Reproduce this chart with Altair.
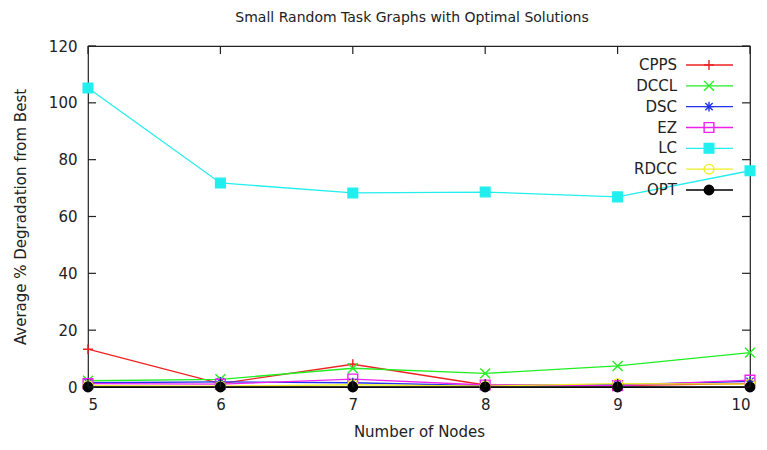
import altair as alt
import pandas as pd

nodes = [5, 6, 7, 8, 9, 10]
names = ["CPPS", "DCCL", "DSC", "EZ", "LC", "RDCC", "OPT"]
cpps = [13.3, 1.2, 8.0, 0.7, 0.5, 1.2]
dccl = [2.2, 2.7, 6.6, 4.8, 7.4, 12.1]
dsc = [1.5, 1.8, 1.5, 0.5, 0.8, 2.0]
ez = [1.2, 1.0, 2.8, 0.7, 0.5, 2.4]
lc = [105.2, 71.8, 68.3, 68.6, 66.9, 76.1]
rdcc = [0.5, 0.3, 0.8, 0.3, 1.2, 1.0]
opt = [0.0, 0.0, 0.0, 0.0, 0.0, 0.0]
series = [cpps, dccl, dsc, ez, lc, rdcc, opt]

y_ticks = [0, 20, 40, 60, 80, 100, 120]
x_ticks = nodes

colors = ["#ee2222", "#22ee22", "#2233ee", "#ee22ee", "#22eeee", "#eeee22", "#000000"]
shapes = [
    "M-1,0L1,0M0,-1L0,1",
    "M-1,-1L1,1M-1,1L1,-1",
    "M-1,0L1,0M0,-1L0,1M-0.75,-0.75L0.75,0.75M-0.75,0.75L0.75,-0.75",
    "square",
    "square",
    "circle",
    "circle",
]
fills = ["transparent", "transparent", "transparent", "transparent", "#22eeee", "transparent", "#000000"]
sizes = [100, 90, 90, 60, 80, 60, 60]

rows = []
for n, vals in zip(names, series):
    for x, v in zip(nodes, vals):
        rows.append({"name": n, "nodes": x, "value": v})
df = pd.DataFrame(rows)
leg_df = pd.DataFrame({"name": names})
yt_df = pd.DataFrame({"v": y_ticks})
xt_df = pd.DataFrame({"v": x_ticks})

W, H = 662, 341
FONT = "DejaVu Sans"
TXT = "#222222"

xscale = alt.Scale(domain=[5, 10], nice=False, zero=False)
yscale = alt.Scale(domain=[0, 120], nice=False)
cscale = alt.Scale(domain=names, range=colors)
sscale = alt.Scale(domain=names, range=shapes)
fscale = alt.Scale(domain=names, range=fills)
zscale = alt.Scale(domain=names, range=sizes)

xaxis = alt.Axis(values=x_ticks, format="d", ticks=False, domain=False, grid=False, labelPadding=10,
                 labelFontSize=15, titleFontSize=15, titleFontWeight="normal",
                 title="Number of Nodes", titlePadding=12, labelColor=TXT, titleColor=TXT)
yaxis = alt.Axis(values=y_ticks, format="d", ticks=False, domain=False, grid=False, labelPadding=11,
                 labelFontSize=15, titleFontSize=15, titleFontWeight="normal",
                 title="Average % Degradation from Best", titlePadding=20,
                 labelColor=TXT, titleColor=TXT)

base = alt.Chart(df)
lines = base.mark_line(strokeWidth=1.3).encode(
    x=alt.X("nodes:Q", scale=xscale, axis=xaxis),
    y=alt.Y("value:Q", scale=yscale, axis=yaxis),
    color=alt.Color("name:N", scale=cscale, legend=None),
    order=alt.Order("nodes:Q"),
)
points = base.mark_point(strokeWidth=1.4, opacity=1, filled=False).encode(
    x=alt.X("nodes:Q", scale=xscale),
    y=alt.Y("value:Q", scale=yscale),
    color=alt.Color("name:N", scale=cscale, legend=None),
    shape=alt.Shape("name:N", scale=sscale, legend=None),
    fill=alt.Fill("name:N", scale=fscale, legend=None),
    size=alt.Size("name:N", scale=zscale, legend=None),
)

tick_style = dict(color="#222222", strokeWidth=1.2)
ytl = alt.Chart(yt_df).mark_rule(**tick_style).encode(
    y=alt.Y("v:Q", scale=yscale), x=alt.value(0), x2=alt.value(8))
ytr = alt.Chart(yt_df).mark_rule(**tick_style).encode(
    y=alt.Y("v:Q", scale=yscale), x=alt.value(W - 8), x2=alt.value(W))
xtb = alt.Chart(xt_df).mark_rule(**tick_style).encode(
    x=alt.X("v:Q", scale=xscale), y=alt.value(H - 8), y2=alt.value(H))
xtt = alt.Chart(xt_df).mark_rule(**tick_style).encode(
    x=alt.X("v:Q", scale=xscale), y=alt.value(0), y2=alt.value(8))

main = alt.layer(lines, points, ytl, ytr, xtb, xtt)

lscale = alt.Scale(type="point", domain=names, range=[19, 144], padding=0)
lbase = alt.Chart(leg_df)
leg_text = lbase.mark_text(align="right", baseline="middle", fontSize=15, font=FONT, color=TXT).encode(
    y=alt.Y("name:N", scale=lscale, axis=None), x=alt.value(589), text="name:N")
leg_rule = lbase.mark_rule(strokeWidth=1.3).encode(
    y=alt.Y("name:N", scale=lscale, axis=None), x=alt.value(598), x2=alt.value(645),
    color=alt.Color("name:N", scale=cscale, legend=None))
leg_pt = lbase.mark_point(strokeWidth=1.4, opacity=1, filled=False).encode(
    y=alt.Y("name:N", scale=lscale, axis=None), x=alt.value(621),
    color=alt.Color("name:N", scale=cscale, legend=None),
    shape=alt.Shape("name:N", scale=sscale, legend=None),
    fill=alt.Fill("name:N", scale=fscale, legend=None),
    size=alt.Size("name:N", scale=zscale, legend=None),
)
legend = alt.layer(leg_text, leg_rule, leg_pt)

chart = alt.layer(main, legend).resolve_scale(y="independent").properties(
    width=W, height=H,
    title=alt.Title("Small Random Task Graphs with Optimal Solutions", fontSize=14,
                    fontWeight="normal", font=FONT, color=TXT, offset=14, dx=-7),
    autosize=alt.AutoSizeParams(type="none"),
    padding={"left": 80, "top": 38, "right": 9, "bottom": 54},
).configure(font=FONT).configure_view(stroke="#222222", strokeWidth=1.2).configure_axis(
    labelFont=FONT, titleFont=FONT)

chart.save("out.html", embed_options={"renderer": "svg", "actions": False})
